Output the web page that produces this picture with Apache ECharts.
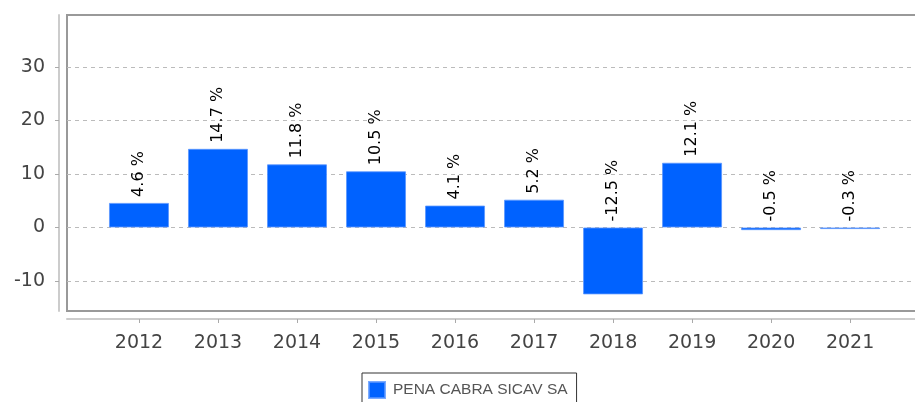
<!DOCTYPE html>
<html>
<head>
<meta charset="utf-8">
<script src="https://cdn.jsdelivr.net/npm/echarts@6/dist/echarts.min.js"></script>
<style>
  html, body { margin: 0; padding: 0; background: #fff; overflow: hidden; }
  /* the plot's right edge runs past the window, as in the source image */
  #chart { width: 930px; height: 402px; }
</style>
</head>
<body>
<div id="chart"></div>
<script>
var years = [2012, 2013, 2014, 2015, 2016, 2017, 2018, 2019, 2020, 2021];
var returns = [4.6, 14.7, 11.8, 10.5, 4.1, 5.2, -12.5, 12.1, -0.5, -0.3];
var yTicks = [-10, 0, 10, 20, 30];
var seriesName = 'PENA CABRA SICAV SA';

var points = [];
years.forEach(function (y, i) {
    points.push([y, returns[i]]);
});

var xMin = 2011.089, xMax = 2021.91;
var yMin = -15.6, yMax = 39.7;

var chart = echarts.init(document.getElementById('chart'));
chart.setOption({
    backgroundColor: '#fff',
    animation: false,
    grid: {
        left: 67,
        right: 8,
        top: 15,
        bottom: 91,
        outerBoundsMode: 'none',
        containLabel: false,
        show: true,
        borderColor: '#999',
        borderWidth: 2
    },
    legend: {
        data: [seriesName],
        left: 362,
        top: 373,
        padding: [8, 9, 8, 6],
        itemWidth: 16,
        itemHeight: 16,
        icon: 'rect',
        borderColor: '#333',
        borderWidth: 1,
        textStyle: {
            fontFamily: 'Liberation Sans',
            fontSize: 15.5,
            color: '#555',
            padding: [0, 0, 0, 3]
        }
    },
    xAxis: {
        type: 'value',
        position: 'bottom',
        min: xMin,
        max: xMax,
        offset: 8,
        axisLine: { show: true, onZero: false, lineStyle: { color: '#ccc', width: 2 } },
        axisTick: {
            show: true,
            length: 4,
            customValues: years,
            lineStyle: { color: '#aaa' }
        },
        axisLabel: {
            customValues: years,
            margin: 15,
            fontFamily: 'DejaVu Sans',
            fontSize: 19,
            color: '#444',
            formatter: function (v) { return String(Math.round(v)); }
        },
        splitLine: { show: false }
    },
    yAxis: {
        type: 'value',
        position: 'left',
        min: yMin,
        max: yMax,
        offset: 8,
        axisLine: { show: true, onZero: false, lineStyle: { color: '#ccc', width: 2 } },
        axisTick: {
            show: true,
            length: 4,
            customValues: yTicks,
            lineStyle: { color: '#aaa' }
        },
        axisLabel: {
            customValues: yTicks,
            margin: 14,
            fontFamily: 'DejaVu Sans',
            fontSize: 19,
            color: '#444'
        },
        splitLine: {
            show: true,
            lineStyle: { color: '#bbb', type: [4, 4], width: 1 }
        }
    },
    series: [{
        name: seriesName,
        type: 'bar',
        data: points,
        barWidth: 60,
        itemStyle: {
            color: '#0062ff',
            borderColor: 'rgba(90,150,255,0.8)',
            borderWidth: 1
        },
        label: {
            show: true,
            position: 'top',
            distance: 6,
            rotate: 90,
            align: 'left',
            verticalAlign: 'middle',
            fontFamily: 'DejaVu Sans',
            fontSize: 16,
            color: '#000',
            formatter: function (p) { return p.value[1].toFixed(1) + ' %'; }
        }
    }]
});
</script>
</body>
</html>
